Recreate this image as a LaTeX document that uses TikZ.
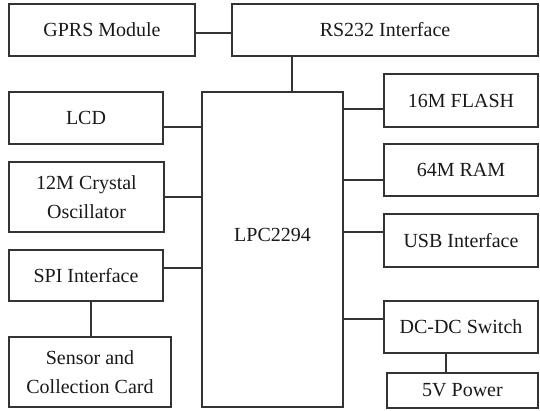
\documentclass[tikz,border=0pt]{standalone}
\usepackage{fontspec}
\setmainfont{Liberation Serif}
\usepackage{tikz}

\begin{document}
\begin{tikzpicture}[x=1pt,y=-1pt,line width=1.1pt,
    blk/.style={draw=black!80,rectangle,inner sep=0pt,outer sep=0pt,align=center,
      font=\fontsize{20}{29}\selectfont,text=black!90}]
  \useasboundingbox (0,0) rectangle (540,410);
  % left column
  \node[blk,minimum width=186,minimum height=52] (gprs) at (102,30){GPRS Module};
  \node[blk,minimum width=154,minimum height=52] (lcd) at (86,118){LCD};
  \node[blk,minimum width=155,minimum height=70] (xtal) at (86.5,197){12M Crystal\\Oscillator};
  \node[blk,minimum width=154,minimum height=51] (spi) at (86,275.5){SPI Interface};
  \node[blk,minimum width=162,minimum height=70] (sensor) at (90,372){Sensor and\\Collection Card};
  % processor
  \node[blk,minimum width=141,minimum height=315,label={[yshift=14.5pt,font=\fontsize{20}{29}\selectfont,text=black!90]center:LPC2294}] (lpc) at (272.5,249.5){};
  % right column
  \node[blk,minimum width=306,minimum height=52] (rs) at (385,30){RS232 Interface};
  \node[blk,minimum width=154,minimum height=53] (flash) at (461,100.5){16M FLASH};
  \node[blk,minimum width=154,minimum height=52] (ram) at (461,170){64M RAM};
  \node[blk,minimum width=154,minimum height=53] (usb) at (461,240.5){USB Interface};
  \node[blk,minimum width=154,minimum height=52] (dcdc) at (461,327){DC-DC Switch};
  \node[blk,minimum width=151,minimum height=35] (power) at (462.5,390.5){5V Power};
  % links
  \begin{scope}[draw=black!80]
    \draw ([yshift=-3pt]gprs.east) -- ([yshift=-3pt]gprs.east -| rs.west);
    \draw ([xshift=19.5pt]lpc.north) -- ([xshift=19.5pt]lpc.north |- rs.south);
    \draw ([yshift=-9pt]lcd.east) -- ([yshift=-9pt]lcd.east -| lpc.west);
    \draw (xtal.east) -- (xtal.east -| lpc.west);
    \draw ([yshift=7.5pt]spi.east) -- ([yshift=7.5pt]spi.east -| lpc.west);
    \draw ([xshift=5pt]spi.south) -- ([xshift=5pt]spi.south |- sensor.north);
    \draw ([yshift=-8.5pt]flash.west) -- ([yshift=-8.5pt]flash.west -| lpc.east);
    \draw ([yshift=-10pt]ram.west) -- ([yshift=-10pt]ram.west -| lpc.east);
    \draw ([yshift=8.5pt]usb.west) -- ([yshift=8.5pt]usb.west -| lpc.east);
    \draw ([yshift=8pt]dcdc.west) -- ([yshift=8pt]dcdc.west -| lpc.east);
    \draw ([xshift=-15pt]dcdc.south) -- ([xshift=-15pt]dcdc.south |- power.north);
  \end{scope}
\end{tikzpicture}
\end{document}
